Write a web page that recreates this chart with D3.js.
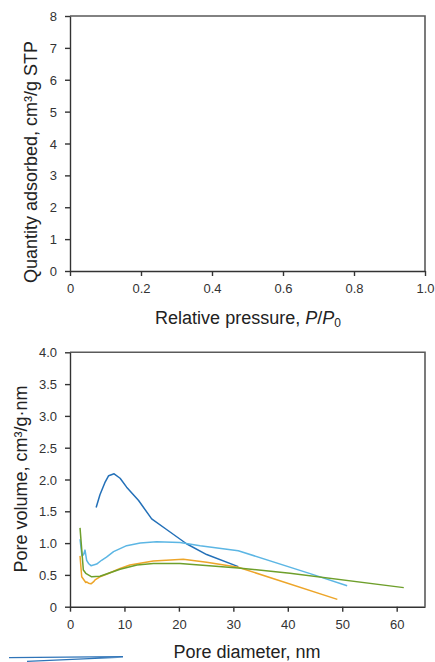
<!DOCTYPE html>
<html>
<head>
<meta charset="utf-8">
<script src="https://cdn.jsdelivr.net/npm/d3@7"></script>
<style>
  body { margin: 0; background: #fff; }
  svg { display: block; font-family: "Liberation Sans", Arial, sans-serif; }
  .tick text { fill: #333; font-size: 13px; }
  .tick line, .domain { stroke: #333; }
  .title { fill: #222; font-size: 18px; }
</style>
</head>
<body>
<div id="chart"></div>
<script>
// top panel (empty isotherm plot)
var topXTicks = [0, 0.2, 0.4, 0.6, 0.8, 1.0];
var topYTicks = [0, 1, 2, 3, 4, 5, 6, 7, 8];

// bottom panel: pore size distribution
var botXTicks = [0, 10, 20, 30, 40, 50, 60];
var botYTicks = [0, 0.5, 1.0, 1.5, 2.0, 2.5, 3.0, 3.5, 4.0];

var darkBlueX = [4.8, 5.5, 6.4, 7.1, 8.1, 9.2, 10.4, 12.6, 15.0, 17.8, 21.4, 25.1, 30.9];
var darkBlueY = [1.56, 1.76, 1.95, 2.06, 2.09, 2.02, 1.88, 1.67, 1.38, 1.21, 0.99, 0.82, 0.63];

var lightBlueX = [1.84, 2.2, 2.5, 2.76, 3.06, 3.4, 3.86, 4.9, 5.8, 6.7, 8.0, 10.4, 12.9, 15.9, 20.2, 23.9, 30.9, 44.1, 50.9];
var lightBlueY = [1.06, 0.80, 0.82, 0.89, 0.73, 0.68, 0.645, 0.67, 0.73, 0.78, 0.865, 0.96, 1.0, 1.02, 1.01, 0.96, 0.88, 0.52, 0.33];

var orangeX = [1.84, 2.15, 2.57, 2.9, 3.06, 3.4, 3.86, 4.3, 4.6, 5.5, 6.7, 9.2, 11.0, 15.3, 20.8, 25.1, 30.9, 49.1];
var orangeY = [0.80, 0.47, 0.42, 0.38, 0.39, 0.37, 0.36, 0.39, 0.42, 0.47, 0.51, 0.60, 0.655, 0.72, 0.745, 0.70, 0.62, 0.115];

var greenX = [1.84, 2.45, 2.9, 3.98, 5.5, 9.2, 12.3, 15.3, 20.2, 30.9, 40.4, 61.3];
var greenY = [1.24, 0.577, 0.525, 0.47, 0.48, 0.59, 0.656, 0.68, 0.68, 0.61, 0.525, 0.30];

var series = [
  {x: darkBlueX, y: darkBlueY, color: "#2370b8"},
  {x: lightBlueX, y: lightBlueY, color: "#5cb6e4"},
  {x: orangeX, y: orangeY, color: "#eda529"},
  {x: greenX, y: greenY, color: "#6e9f2b"}
];

var svgWidth = 435;
var svgHeight = 662;

var svg = d3.select("#chart")
  .append("svg")
  .attr("width", svgWidth)
  .attr("height", svgHeight);

function fmtTick(d) {
  return d === 0 ? "0" : d3.format(".1f")(d);
}

// draws frame, axes and labels for one panel
function drawPanel(xScale, yScale, xTicks, yTicks, xFmt, yFmt) {
  var x0 = xScale.range()[0], x1 = xScale.range()[1];
  var y0 = yScale.range()[0], y1 = yScale.range()[1];

  // grey box on top/right
  svg.append("path")
    .attr("d", `M${x0},${y1}H${x1}V${y0}`)
    .attr("fill", "none")
    .attr("stroke", "#5a5a5a")
    .attr("stroke-width", 1.6);

  var bottomAxis = d3.axisBottom(xScale)
    .tickValues(xTicks)
    .tickFormat(xFmt)
    .tickSize(5)
    .tickSizeOuter(0)
    .tickPadding(8);

  var leftAxis = d3.axisLeft(yScale)
    .tickValues(yTicks)
    .tickFormat(yFmt)
    .tickSize(5)
    .tickSizeOuter(0)
    .tickPadding(8);

  svg.append("g")
    .attr("transform", `translate(0, ${y0})`)
    .call(bottomAxis)
    .call(g => g.selectAll(".domain, .tick line").attr("stroke-width", 1.4));

  svg.append("g")
    .attr("transform", `translate(${x0}, 0)`)
    .call(leftAxis)
    .call(g => g.selectAll(".domain, .tick line").attr("stroke-width", 1.4))
    .call(g => g.selectAll(".tick text").attr("dy", "0.35em"));
}

// ---- top panel ----
var xTop = d3.scaleLinear().domain([0, 1]).range([70, 425]);
var yTop = d3.scaleLinear().domain([0, 8]).range([271, 16]);
drawPanel(xTop, yTop, topXTicks, topYTicks, fmtTick, d3.format("d"));

var topXTitle = svg.append("text")
  .attr("class", "title")
  .attr("x", 248)
  .attr("y", 324)
  .attr("text-anchor", "middle");
topXTitle.append("tspan").text("Relative pressure, ");
topXTitle.append("tspan").attr("font-style", "italic").text("P");
topXTitle.append("tspan").text("/");
topXTitle.append("tspan").attr("font-style", "italic").text("P");
topXTitle.append("tspan").attr("font-size", "12px").attr("dy", 3).text("0");

svg.append("text")
  .attr("class", "title")
  .attr("transform", "translate(37, 162) rotate(-90)")
  .attr("text-anchor", "middle")
  .text("Quantity adsorbed, cm³/g STP");

// ---- bottom panel ----
var xBot = d3.scaleLinear().domain([0, 65.2]).range([70, 425]);
var yBot = d3.scaleLinear().domain([0, 4]).range([606.7, 352.3]);
drawPanel(xBot, yBot, botXTicks, botYTicks, d3.format("d"), fmtTick);

svg.append("text")
  .attr("class", "title")
  .attr("x", 247)
  .attr("y", 658)
  .attr("text-anchor", "middle")
  .text("Pore diameter, nm");

svg.append("text")
  .attr("class", "title")
  .attr("transform", "translate(26.5, 479) rotate(-90)")
  .attr("text-anchor", "middle")
  .text("Pore volume, cm³/g·nm");

var line = d3.line()
  .x(d => xBot(d[0]))
  .y(d => yBot(d[1]));

series.forEach(function(s) {
  svg.append("path")
    .datum(s.x.map((v, i) => [v, s.y[i]]))
    .attr("d", line)
    .attr("fill", "none")
    .attr("stroke", s.color)
    .attr("stroke-width", 1.5)
    .attr("stroke-linejoin", "round");
});

// stray blue sliver at bottom-left edge
svg.append("path")
  .attr("d", "M9,657.7L123,656.6M27,661.3L123,657.2")
  .attr("fill", "none")
  .attr("stroke", "#2f74b8")
  .attr("stroke-width", 1.3);
</script>
</body>
</html>
